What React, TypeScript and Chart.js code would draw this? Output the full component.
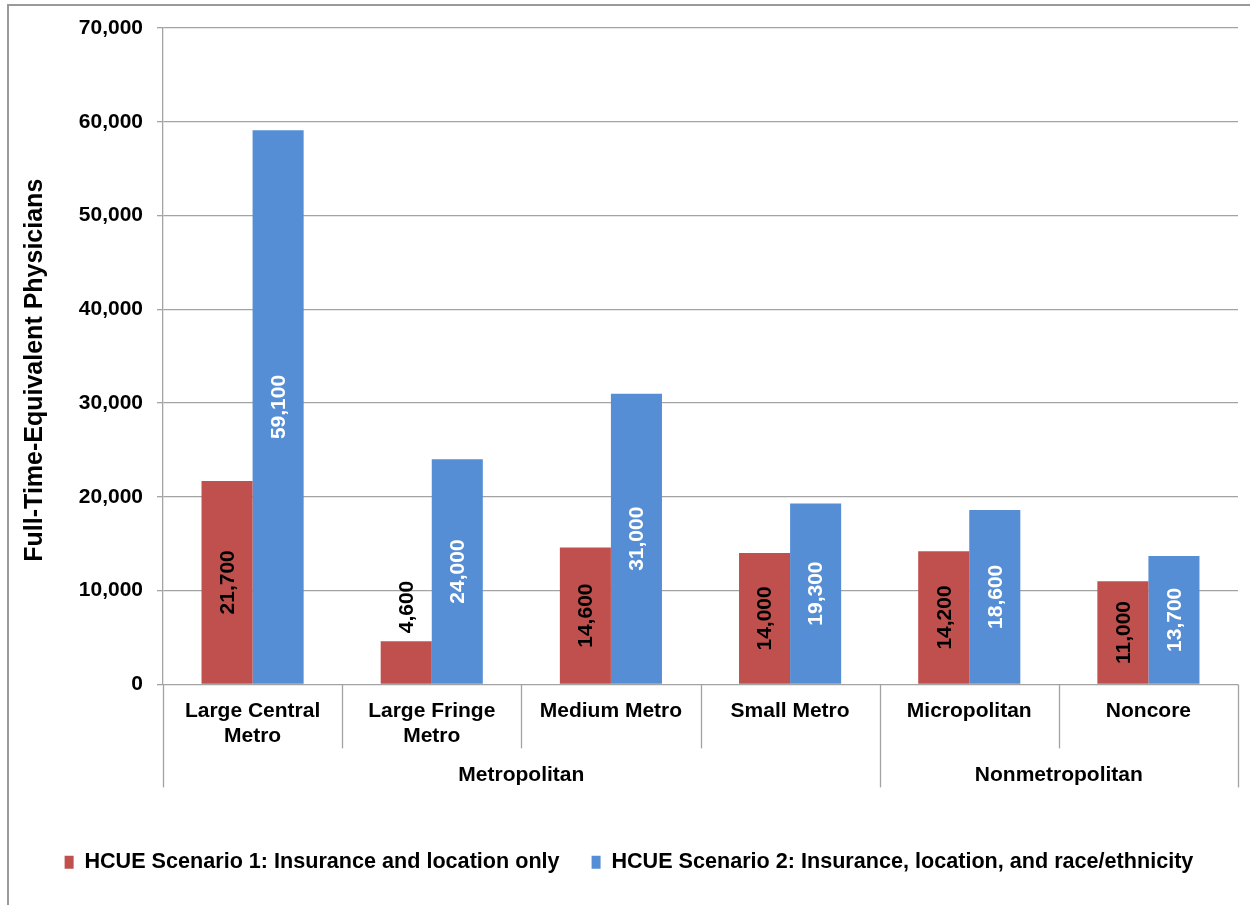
import React, { useEffect, useRef } from "react";
import { Chart, registerables } from "chart.js";

Chart.register(...registerables);

const categories: (string | string[])[] = [
  ["Large Central", "Metro"],
  ["Large Fringe", "Metro"],
  "Medium Metro",
  "Small Metro",
  "Micropolitan",
  "Noncore",
];
const groupLabels = ["Metropolitan", "Nonmetropolitan"];
const groupSpans = [4, 2];
const scenario1 = [21700, 4600, 14600, 14000, 14200, 11000];
const scenario2 = [59100, 24000, 31000, 19300, 18600, 13700];
const seriesNames = [
  "HCUE Scenario 1: Insurance and location only",
  "HCUE Scenario 2: Insurance, location, and race/ethnicity",
];
const yMin = 0;
const yMax = 70000;
const yStep = 10000;
const yTitle = "Full-Time-Equivalent Physicians";

const FONT = "'Liberation Sans', Arial, sans-serif";
const GRID = "#a3a3a3";
const RED = "#C0504D";
const BLUE = "#558ED5";

const fmt = (v: number) => v.toLocaleString("en-US");

const framePlugin = {
  id: "frame",
  beforeDraw(chart: any) {
    const ctx = chart.ctx;
    ctx.save();
    ctx.strokeStyle = "#9a9a9a";
    ctx.lineWidth = 2;
    ctx.beginPath();
    ctx.moveTo(8, chart.height);
    ctx.lineTo(8, 5);
    ctx.lineTo(chart.width, 5);
    ctx.stroke();
    ctx.restore();
  },
};

const yTitlePlugin = {
  id: "yTitle",
  afterDraw(chart: any) {
    const ctx = chart.ctx;
    const area = chart.chartArea;
    ctx.save();
    ctx.translate(35, (area.top + area.bottom) / 2 + 14);
    ctx.rotate(-Math.PI / 2);
    ctx.fillStyle = "#000";
    ctx.font = `bold 25px ${FONT}`;
    ctx.textAlign = "center";
    ctx.textBaseline = "middle";
    ctx.fillText(yTitle, 0, 0);
    ctx.restore();
  },
};

const xGroupPlugin = {
  id: "xGroups",
  afterDraw(chart: any) {
    const x = chart.scales.x;
    const ctx = chart.ctx;
    const n = categories.length;
    const step = x.width / n;
    const top = chart.chartArea.bottom;
    const groupEdges = new Set<number>([0]);
    let acc = 0;
    groupSpans.forEach((s) => {
      acc += s;
      groupEdges.add(acc);
    });
    ctx.save();
    ctx.strokeStyle = GRID;
    ctx.lineWidth = 1.3;
    for (let i = 0; i <= n; i++) {
      const px = Math.round(x.left + i * step) + 0.5;
      const bottom = groupEdges.has(i) ? top + 103 : top + 64;
      ctx.beginPath();
      ctx.moveTo(px, top);
      ctx.lineTo(px, bottom);
      ctx.stroke();
    }
    ctx.fillStyle = "#000";
    ctx.font = `bold 21px ${FONT}`;
    ctx.textAlign = "center";
    ctx.textBaseline = "middle";
    let start = 0;
    groupLabels.forEach((g, gi) => {
      const end = start + groupSpans[gi];
      const cx = x.left + ((start + end) / 2) * step;
      ctx.fillText(g, cx, top + 91);
      start = end;
    });
    ctx.restore();
  },
};

const valueLabelPlugin = {
  id: "valueLabels",
  afterDatasetsDraw(chart: any) {
    const ctx = chart.ctx;
    ctx.save();
    ctx.font = `bold 21px ${FONT}`;
    chart.data.datasets.forEach((ds: any, di: number) => {
      const meta = chart.getDatasetMeta(di);
      meta.data.forEach((bar: any, i: number) => {
        const v = ds.data[i];
        const text = fmt(v);
        const tw = ctx.measureText(text).width;
        const h = bar.base - bar.y;
        ctx.save();
        if (tw + 12 < h) {
          ctx.translate(bar.x, (bar.y + bar.base) / 2);
          ctx.rotate(-Math.PI / 2);
          ctx.textAlign = "center";
          ctx.textBaseline = "middle";
          ctx.fillStyle = di === 0 ? "#000" : "#fff";
        } else {
          ctx.translate(bar.x, bar.y - 8);
          ctx.rotate(-Math.PI / 2);
          ctx.textAlign = "left";
          ctx.textBaseline = "middle";
          ctx.fillStyle = "#000";
        }
        ctx.fillText(text, 0, 1);
        ctx.restore();
      });
    });
    ctx.restore();
  },
};

export default function App() {
  const ref = useRef<HTMLCanvasElement | null>(null);

  useEffect(() => {
    if (!ref.current) return;
    const chart = new Chart(ref.current, {
      type: "bar",
      data: {
        labels: categories as any,
        datasets: [
          {
            label: seriesNames[0],
            data: scenario1,
            backgroundColor: RED,
            borderWidth: 0,
            categoryPercentage: 0.57,
            barPercentage: 1,
          },
          {
            label: seriesNames[1],
            data: scenario2,
            backgroundColor: BLUE,
            borderWidth: 0,
            categoryPercentage: 0.57,
            barPercentage: 1,
          },
        ],
      },
      options: {
        animation: false,
        responsive: false,
        maintainAspectRatio: false,
        devicePixelRatio: 1,
        layout: { padding: { left: 20, right: 12, top: 28, bottom: 22 } },
        plugins: {
          tooltip: { enabled: false },
          legend: {
            position: "bottom",
            labels: {
              boxWidth: 9,
              boxHeight: 13,
              padding: 32,
              color: "#000",
              font: { family: FONT, size: 21.6, weight: "bold" },
            },
          },
        },
        scales: {
          x: {
            grid: { display: false, drawTicks: false },
            border: { display: false },
            ticks: {
              autoSkip: false,
              maxRotation: 0,
              minRotation: 0,
              padding: 14,
              color: "#000",
              font: { family: FONT, size: 21, weight: "bold", lineHeight: 1.2 },
            },
            afterFit: (s: any) => {
              s.height = 135;
            },
          },
          y: {
            min: yMin,
            max: yMax,
            ticks: {
              stepSize: yStep,
              padding: 14,
              color: "#000",
              font: { family: FONT, size: 21, weight: "bold" },
              callback: (v: any) => fmt(Number(v)),
            },
            grid: { color: GRID, lineWidth: 1.3, tickLength: 6 },
            border: { display: true, color: GRID, width: 1.3 },
            afterFit: (s: any) => {
              s.width = 143;
            },
          },
        },
      },
      plugins: [framePlugin, xGroupPlugin, valueLabelPlugin, yTitlePlugin],
    });
    return () => chart.destroy();
  }, []);

  return (
    <div style={{ position: "absolute", left: 0, top: 0, width: 1250, height: 905, background: "#fff" }}>
      <canvas ref={ref} width={1250} height={905} style={{ display: "block", width: 1250, height: 905 }} />
    </div>
  );
}
